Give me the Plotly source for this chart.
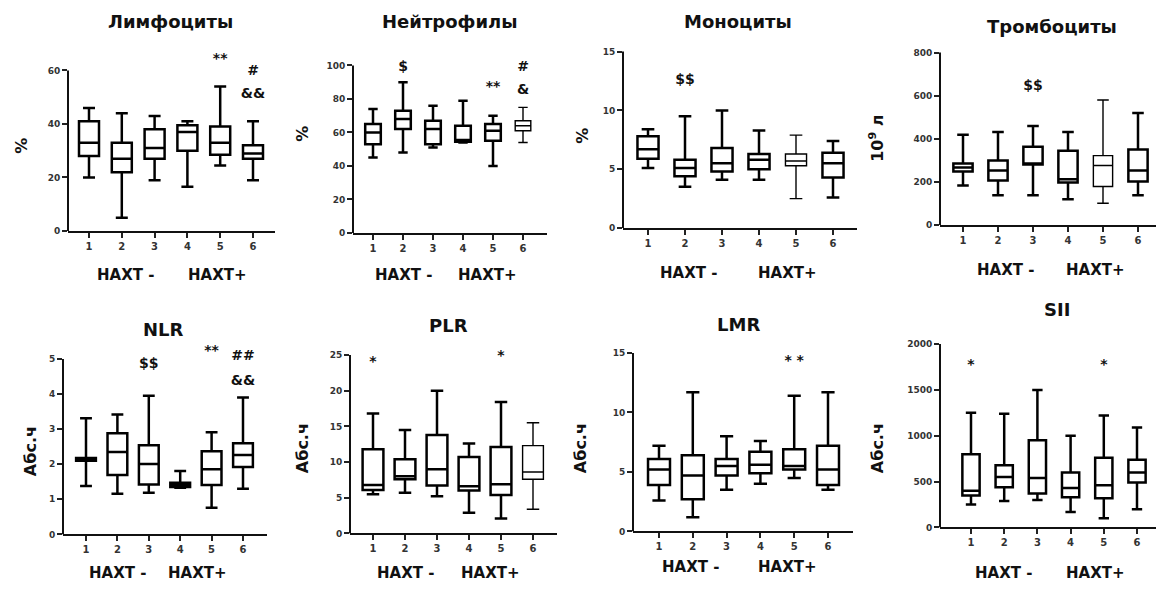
import plotly.graph_objects as go

W, H = 1156, 591
groups = [1, 2, 3, 4, 5, 6]
group_labels = ["1", "2", "3", "4", "5", "6"]
side_labels = ["НАХТ -", "НАХТ+"]

titles = ["Лимфоциты", "Нейтрофилы", "Моноциты", "Тромбоциты", "NLR", "PLR", "LMR", "SII"]
y_titles = ["%", "%", "%", "10<sup>9</sup> л", "Абс.ч", "Абс.ч", "Абс.ч", "Абс.ч"]
y_tops = [60, 100, 15, 800, 5, 25, 15, 2000]
y_dticks = [20, 20, 5, 200, 1, 5, 5, 500]

# ---- box statistics (lower whisker, q1, median, q3, upper whisker) ----
lymph_low = [20, 5, 19, 16.5, 24.5, 19]
lymph_q1 = [28, 22, 27, 30, 28.5, 27]
lymph_med = [33, 27, 31, 37, 33, 29]
lymph_q3 = [41, 33, 38, 39.5, 39, 32]
lymph_high = [46, 44, 43, 41, 54, 41]

neut_low = [45, 48, 51, 54, 40, 54]
neut_q1 = [53, 62, 53, 54.5, 55, 61]
neut_med = [60, 68, 62, 55.5, 61, 64]
neut_q3 = [65, 73, 67, 64, 65, 67]
neut_high = [74, 90, 76, 79, 70, 75]

mono_low = [5.1, 3.5, 4.1, 4.1, 2.5, 2.6]
mono_q1 = [5.9, 4.4, 4.8, 5.0, 5.3, 4.3]
mono_med = [6.7, 5.1, 5.5, 5.8, 5.7, 5.5]
mono_q3 = [7.8, 5.8, 6.8, 6.3, 6.3, 6.4]
mono_high = [8.4, 9.5, 10.0, 8.3, 7.9, 7.4]

plt_low = [184, 138, 138, 120, 101, 138]
plt_q1 = [248, 207, 281, 198, 179, 202]
plt_med = [267, 253, 282, 212, 276, 253]
plt_q3 = [285, 299, 363, 345, 322, 350]
plt_high = [419, 432, 460, 432, 580, 520]

nlr_low = [1.38, 1.16, 1.19, 1.33, 0.76, 1.3]
nlr_q1 = [2.10, 1.69, 1.42, 1.35, 1.41, 1.92]
nlr_med = [2.14, 2.35, 2.01, 1.40, 1.86, 2.26]
nlr_q3 = [2.18, 2.88, 2.54, 1.47, 2.37, 2.60]
nlr_high = [3.31, 3.42, 3.95, 1.81, 2.91, 3.90]

plr_low = [5.5, 5.7, 5.2, 2.9, 2.1, 3.4]
plr_q1 = [6.1, 7.6, 6.7, 6.0, 5.4, 7.6]
plr_med = [6.8, 8.0, 9.0, 6.6, 6.9, 8.6]
plr_q3 = [11.8, 10.4, 13.8, 10.7, 12.1, 12.3]
plr_high = [16.8, 14.5, 20.0, 12.6, 18.4, 15.5]

lmr_low = [2.6, 1.2, 3.5, 4.0, 4.5, 3.5]
lmr_q1 = [3.9, 2.7, 4.7, 4.9, 5.2, 3.9]
lmr_med = [5.2, 4.7, 5.5, 5.6, 5.5, 5.2]
lmr_q3 = [6.1, 6.4, 6.1, 6.7, 6.9, 7.2]
lmr_high = [7.2, 11.7, 8.0, 7.6, 11.4, 11.7]

sii_low = [250, 290, 300, 170, 100, 200]
sii_q1 = [350, 440, 370, 330, 320, 490]
sii_med = [400, 550, 540, 430, 460, 600]
sii_q3 = [800, 680, 950, 600, 760, 740]
sii_high = [1250, 1240, 1500, 1000, 1220, 1090]

stats = [
    (lymph_low, lymph_q1, lymph_med, lymph_q3, lymph_high),
    (neut_low, neut_q1, neut_med, neut_q3, neut_high),
    (mono_low, mono_q1, mono_med, mono_q3, mono_high),
    (plt_low, plt_q1, plt_med, plt_q3, plt_high),
    (nlr_low, nlr_q1, nlr_med, nlr_q3, nlr_high),
    (plr_low, plr_q1, plr_med, plr_q3, plr_high),
    (lmr_low, lmr_q1, lmr_med, lmr_q3, lmr_high),
    (sii_low, sii_q1, sii_med, sii_q3, sii_high),
]

# ---- significance marks (group, value, text) ----
sig_x = [[5, 6, 6], [2, 5, 6, 6], [2], [3], [3, 5, 6, 6], [1, 5], [5], [1, 5]]
sig_y = [[64, 59.6, 51], [99, 87, 99, 85], [12.5], [644], [4.83, 5.2, 5.06, 4.35],
         [24.0, 24.8], [14.3], [1765, 1765]]
sig_text = [["**", "#", "&&"], ["$", "**", "#", "&"], ["$$"], ["$$"],
            ["$$", "**", "##", "&&"], ["*", "*"], ["* *"], ["*", "*"]]

# ---- layout geometry (pixels) ----
geo = [
    dict(x0=68, t1=89, t6=253, xe=275, ytop=71, y0=233, bw=0.61),
    dict(x0=353, t1=373, t6=523, xe=547, ytop=66, y0=235, bw=0.52),
    dict(x0=623, t1=648, t6=833, xe=857, ytop=52, y0=230, bw=0.57),
    dict(x0=940, t1=963, t6=1138, xe=1156, ytop=53, y0=227, bw=0.55),
    dict(x0=63, t1=86, t6=243, xe=267, ytop=362, y0=539, bw=0.63),
    dict(x0=350, t1=373, t6=533, xe=557, ytop=358, y0=538, bw=0.65),
    dict(x0=633, t1=659, t6=828, xe=853, ytop=356, y0=536, bw=0.65),
    dict(x0=940, t1=971, t6=1137, xe=1156, ytop=347, y0=532, bw=0.52),
]
EXT = 1.2  # headroom above the top tick for the significance marks
title_pos = [(170, 22), (450, 22), (738, 22), (1052, 27), (163, 332), (448, 328), (738, 327), (1057, 312)]
ytitle_pos = [(22, 147), (303, 135), (583, 137), (877, 140), (30, 455), (302, 452), (580, 452), (877, 452)]
side_pos = [((125, 217), 277), ((403, 488), 277), ((688, 787), 275), ((1005, 1095), 272),
            ((117, 198), 578), ((405, 490), 578), ((690, 787), 572), ((1003, 1095), 578)]
thin_boxes = [[], [6], [5], [5], [], [6], [], []]

FONT = "DejaVu Sans"
fig = go.Figure()
annotations = []
shapes = []
layout_axes = {}

for i in range(8):
    g = geo[i]
    xs = "x" if i == 0 else f"x{i+1}"
    ys = "y" if i == 0 else f"y{i+1}"
    xa = "xaxis" if i == 0 else f"xaxis{i+1}"
    ya = "yaxis" if i == 0 else f"yaxis{i+1}"
    low, q1, med, q3, high = stats[i]
    for k, grp in enumerate(groups):
        lw = 1.4 if grp in thin_boxes[i] else 2.5
        fig.add_trace(go.Box(
            x=[grp], lowerfence=[low[k]], q1=[q1[k]], median=[med[k]], q3=[q3[k]],
            upperfence=[high[k]], width=g["bw"], whiskerwidth=0.6,
            fillcolor="white", line=dict(color="black", width=lw),
            boxpoints=False, showlegend=False, hoverinfo="skip",
            xaxis=xs, yaxis=ys))
    fig.add_trace(go.Scatter(
        x=sig_x[i], y=sig_y[i], text=sig_text[i], mode="text",
        textfont=dict(family=FONT, size=14, color="#111", weight="bold"),
        textposition="middle center", cliponaxis=False, showlegend=False,
        hoverinfo="skip", xaxis=xs, yaxis=ys))

    s = (g["t6"] - g["t1"]) / 5.0
    xr = [1 - (g["t1"] - g["x0"]) / s, 6 + (g["xe"] - g["t6"]) / s]
    ytop_ext = g["y0"] - (g["y0"] - g["ytop"]) * EXT
    top = y_tops[i]
    layout_axes[xa] = dict(
        domain=[g["x0"] / W, g["xe"] / W], range=xr, anchor=ys,
        tickvals=groups, ticktext=group_labels, ticks="outside", ticklen=5,
        tickwidth=2, tickcolor="#222", showline=True, linecolor="#111",
        linewidth=2, showgrid=False, zeroline=False, fixedrange=True,
        tickfont=dict(family=FONT, size=10, color="#333", weight="bold"))
    yt = list(range(0, top + 1, y_dticks[i]))
    layout_axes[ya] = dict(
        domain=[1 - g["y0"] / H, 1 - ytop_ext / H], range=[0, top * EXT],
        anchor=xs, tickvals=yt, ticks="outside", ticklen=5,
        tickwidth=2, tickcolor="#222", showline=False,
        showgrid=False, zeroline=False, fixedrange=True,
        tickfont=dict(family=FONT, size=9, color="#333", weight="bold"))
    # y-axis line from 0 up to the top tick only (GraphPad style)
    shapes.append(dict(type="line", xref=f"{xs} domain", yref=ys, x0=0, x1=0, y0=0, y1=top,
                       line=dict(color="#111", width=2), layer="above"))

    tx, ty = title_pos[i]
    annotations.append(dict(text=titles[i], x=tx / W, y=1 - ty / H, xref="paper", yref="paper",
                            showarrow=False, xanchor="center", yanchor="middle",
                            font=dict(family=FONT, size=18, color="#111", weight="bold")))
    yx, yy = ytitle_pos[i]
    annotations.append(dict(text=y_titles[i], x=yx / W, y=1 - yy / H, xref="paper", yref="paper",
                            showarrow=False, xanchor="center", yanchor="middle", textangle=-90,
                            font=dict(family=FONT, size=16, color="#111", weight="bold")))
    (sx1, sx2), sy = side_pos[i]
    for lab, sx in zip(side_labels, (sx1, sx2)):
        annotations.append(dict(text=lab, x=sx / W, y=1 - sy / H, xref="paper", yref="paper",
                                showarrow=False, xanchor="center", yanchor="middle",
                                font=dict(family=FONT, size=15, color="#111", weight="bold")))

fig.update_layout(
    width=W, height=H, margin=dict(l=0, r=0, t=0, b=0),
    paper_bgcolor="white", plot_bgcolor="white",
    annotations=annotations, shapes=shapes, showlegend=False, **layout_axes)

fig.write_html("out.html", config=dict(displayModeBar=False),
               post_script="document.body.style.margin='0';document.body.style.overflow='hidden';")
